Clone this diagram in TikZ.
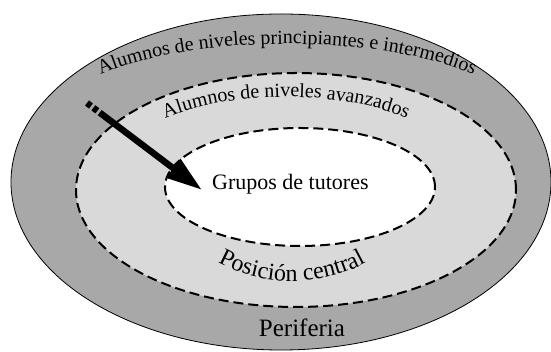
\documentclass[tikz,border=0pt]{standalone}
\usepackage{fontspec}
\setmainfont{Liberation Serif}
\usepackage{tikz}
\usetikzlibrary{decorations.text, arrows.meta}

\definecolor{zonaext}{HTML}{A8A8A8}
\definecolor{zonamed}{HTML}{D9D9D9}

\begin{document}
\begin{tikzpicture}[x=1pt,y=1pt,
                    borde/.style={draw=black,dash pattern=on 10pt off 5pt,line width=2pt},
                    rotulo/.style={decorate,decoration={text along path,text align=center}}]
\tikzset{font=\fontsize{22pt}{26}\selectfont}
\useasboundingbox (0,0) rectangle (551,352);

        % zonas
        \fill[zonaext,draw=black,line width=0.8pt] (281,170) ellipse [x radius=270pt, y radius=168pt];
        \filldraw[zonamed,borde] (296,162) ellipse [x radius=220pt, y radius=117pt];
        \filldraw[white,borde] (300,165) ellipse [x radius=135pt, y radius=59pt];

        % rotulos curvos
        \path[rotulo,decoration={text={|\fontsize{20pt}{24}\selectfont|Alumnos de niveles principiantes e intermedios}}]
            (287,240) ++(165:222pt and 68pt) arc [start angle=165, end angle=15, x radius=222pt, y radius=68pt];
        \path[rotulo,decoration={text={|\fontsize{20pt}{24}\selectfont|Alumnos de niveles avanzados}}]
            (286,182) ++(160:171pt and 73pt) arc [start angle=160, end angle=20, x radius=171pt, y radius=73pt];
        \path[rotulo,decoration={text={|\fontsize{24pt}{28}\selectfont|Posición central}}]
            (292,164) ++(200:124pt and 93pt) arc [start angle=200, end angle=340, x radius=124pt, y radius=93pt];

        \node[anchor=base west, inner sep=0pt]                      (grupos)   at (212,162) {Grupos de tutores};
        \node[anchor=base, inner sep=0pt, font=\fontsize{25pt}{30}\selectfont] (periferia) at (302,15) {Periferia};

        % flecha
        \coordinate (cola) at (87,249);
        \coordinate (medio) at (99.8,239.3);
        \coordinate (punta) at (202,162);
        \draw[line width=6.5pt, dash pattern=on 5pt off 3pt] (cola) -- (medio);
        \draw[line width=6.5pt, -{Triangle[length=36pt,width=22pt]}] (medio) -- (punta);

\end{tikzpicture}
\end{document}
